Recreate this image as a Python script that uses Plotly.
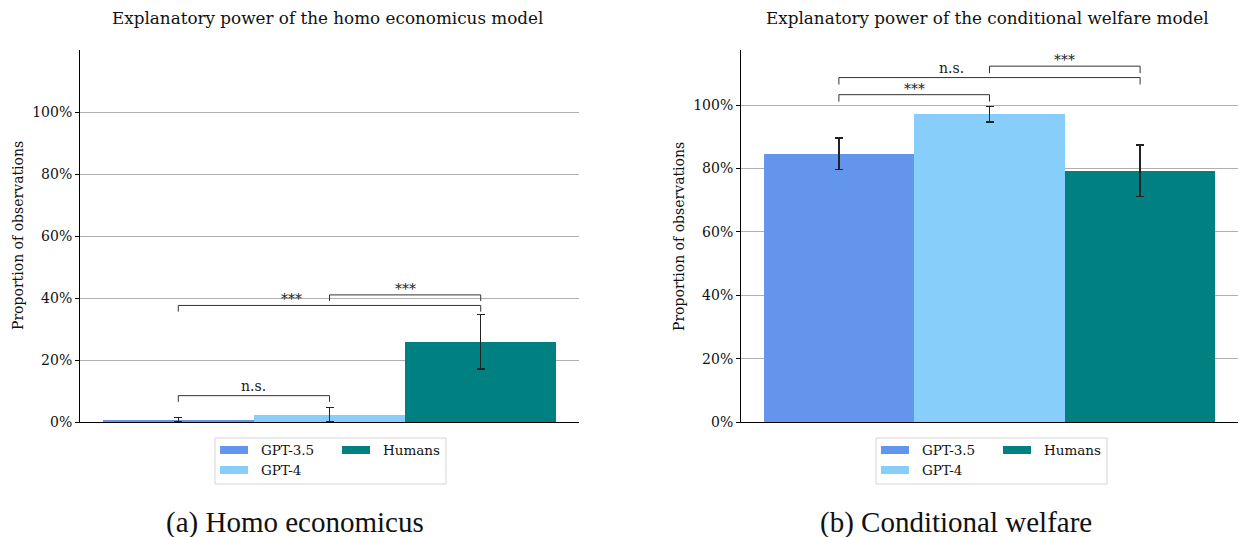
import plotly.graph_objects as go

W, H = 1239, 537

models = ["GPT-3.5", "GPT-4", "Humans"]
colors = ["#6495ED", "#87CEFA", "#008080"]

# Homo economicus model: share of observations explained, with CI bounds
homo_vals = [0.004, 0.024, 0.259]
homo_hi = [0.015, 0.046, 0.347]
homo_lo = [0.0, 0.002, 0.171]

# Conditional welfare model
welf_vals = [0.845, 0.972, 0.793]
welf_hi = [0.896, 0.995, 0.874]
welf_lo = [0.796, 0.947, 0.711]

# Significance brackets: (left bar, right bar, label, height, label x)
homo_brackets = [(0, 1, "n.s.", 0.085, 0.5), (0, 2, "***", 0.376, 0.75), (1, 2, "***", 0.41, 1.5)]
welf_brackets = [(0, 1, "***", 1.033, 0.5), (0, 2, "n.s.", 1.087, 0.75), (1, 2, "***", 1.123, 1.5)]

y_ticks = [0, 0.2, 0.4, 0.6, 0.8, 1.0]
y_tick_text = ["0%", "20%", "40%", "60%", "80%", "100%"]

SERIF = "DejaVu Serif"
fig = go.Figure()

panels = [
    dict(vals=homo_vals, hi=homo_hi, lo=homo_lo, br=homo_brackets, xa="x", ya="y",
         px=(80, 579), ymax=1.2, drop=0.02,
         title="Explanatory power of the homo economicus model", cap="(a) Homo economicus"),
    dict(vals=welf_vals, hi=welf_hi, lo=welf_lo, br=welf_brackets, xa="x2", ya="y2",
         px=(741, 1238), ymax=1.174, drop=0.022,
         title="Explanatory power of the conditional welfare model", cap="(b) Conditional welfare"),
]

y_dom = [1 - 422 / H, 1 - 50 / H]
shapes = []
annotations = []

for k, p in enumerate(panels):
    for i, m in enumerate(models):
        fig.add_trace(go.Bar(
            x=[i], y=[p["vals"][i]], width=1, xaxis=p["xa"], yaxis=p["ya"],
            marker=dict(color=colors[i], line=dict(width=0)),
            error_y=dict(type="data", symmetric=False,
                         array=[p["hi"][i] - p["vals"][i]],
                         arrayminus=[p["vals"][i] - p["lo"][i]],
                         color="#222222", thickness=1.4, width=4),
            name=m, showlegend=False,
        ))
    xr = "x" if k == 0 else "x2"
    yr = "y" if k == 0 else "y2"
    for a, b, lab, h, lx in p["br"]:
        shapes.append(dict(type="path", xref=xr, yref=yr,
                           path=f"M {a},{h - p['drop']} L {a},{h} L {b},{h} L {b},{h - p['drop']}",
                           line=dict(color="#333333", width=1)))
        annotations.append(dict(x=lx, y=h, xref=xr, yref=yr, text=lab, showarrow=False,
                                yanchor="bottom", yshift=-4 if lab == "***" else 0,
                                font=dict(family=SERIF, size=14, color="#222222")))
    x0, x1 = p["px"]
    cx = (x0 + x1) / 2
    annotations.append(dict(x=(cx - 2) / W, y=1 - 18 / H, xref="paper", yref="paper",
                            text=p["title"], showarrow=False, xanchor="center", yanchor="middle",
                            font=dict(family=SERIF, size=16.8, color="#111111")))
    annotations.append(dict(x=(x0 - 62) / W, y=(y_dom[0] + y_dom[1]) / 2, xref="paper", yref="paper",
                            text="Proportion of observations", showarrow=False, textangle=-90,
                            xanchor="center", yanchor="middle",
                            font=dict(family=SERIF, size=14, color="#111111")))
    annotations.append(dict(x=(x0 + 215) / W, y=1 - 522 / H, xref="paper", yref="paper",
                            text=p["cap"], showarrow=False, xanchor="center", yanchor="middle",
                            font=dict(family="Liberation Serif", size=29, color="#111111")))

    # legend box
    off = 0 if k == 0 else 661
    shapes.append(dict(type="rect", xref="paper", yref="paper",
                       x0=(215 + off) / W, x1=(446 + off) / W, y0=1 - 484 / H, y1=1 - 438 / H,
                       line=dict(color="#d5d5d5", width=1), fillcolor="rgba(255,255,255,0.8)"))
    entries = [(0, 220, 450), (1, 220, 470), (2, 342, 450)]
    for idx, sx, sy in entries:
        shapes.append(dict(type="rect", xref="paper", yref="paper",
                           x0=(sx + off) / W, x1=(sx + 28 + off) / W,
                           y0=1 - (sy + 4) / H, y1=1 - (sy - 4) / H,
                           line=dict(width=0), fillcolor=colors[idx]))
        annotations.append(dict(x=(sx + 39 + off) / W, y=1 - sy / H, xref="paper", yref="paper",
                                text=models[idx], showarrow=False, xanchor="left", yanchor="middle",
                                font=dict(family=SERIF, size=13.5, color="#111111")))

axis_common = dict(showgrid=False, zeroline=False, showticklabels=False, ticks="", automargin=False,
                   showline=True, linecolor="black", linewidth=1, range=[-0.65, 2.65], fixedrange=True)
yaxis_common = dict(showgrid=True, gridcolor="#b0b0b0", gridwidth=1, zeroline=False, automargin=False,
                    tickvals=y_ticks, ticktext=y_tick_text, ticks="outside", ticklen=4,
                    tickcolor="black", showline=True, linecolor="black", linewidth=1,
                    tickfont=dict(family=SERIF, size=14, color="#111111"))

fig.update_layout(
    width=W, height=H, autosize=False, margin=dict(l=0, r=0, t=0, b=0, pad=0),
    paper_bgcolor="white", plot_bgcolor="white",
    barmode="overlay", bargap=0,
    xaxis=dict(domain=[80 / W, 579 / W], anchor="y", **axis_common),
    xaxis2=dict(domain=[741 / W, 1238 / W], anchor="y2", **axis_common),
    yaxis=dict(domain=y_dom, anchor="x", range=[0, 1.2], **yaxis_common),
    yaxis2=dict(domain=y_dom, anchor="x2", range=[0, 1.174], **yaxis_common),
    shapes=shapes, annotations=annotations, showlegend=False,
)

fig.write_html("out.html", config={"responsive": False, "displayModeBar": False})
